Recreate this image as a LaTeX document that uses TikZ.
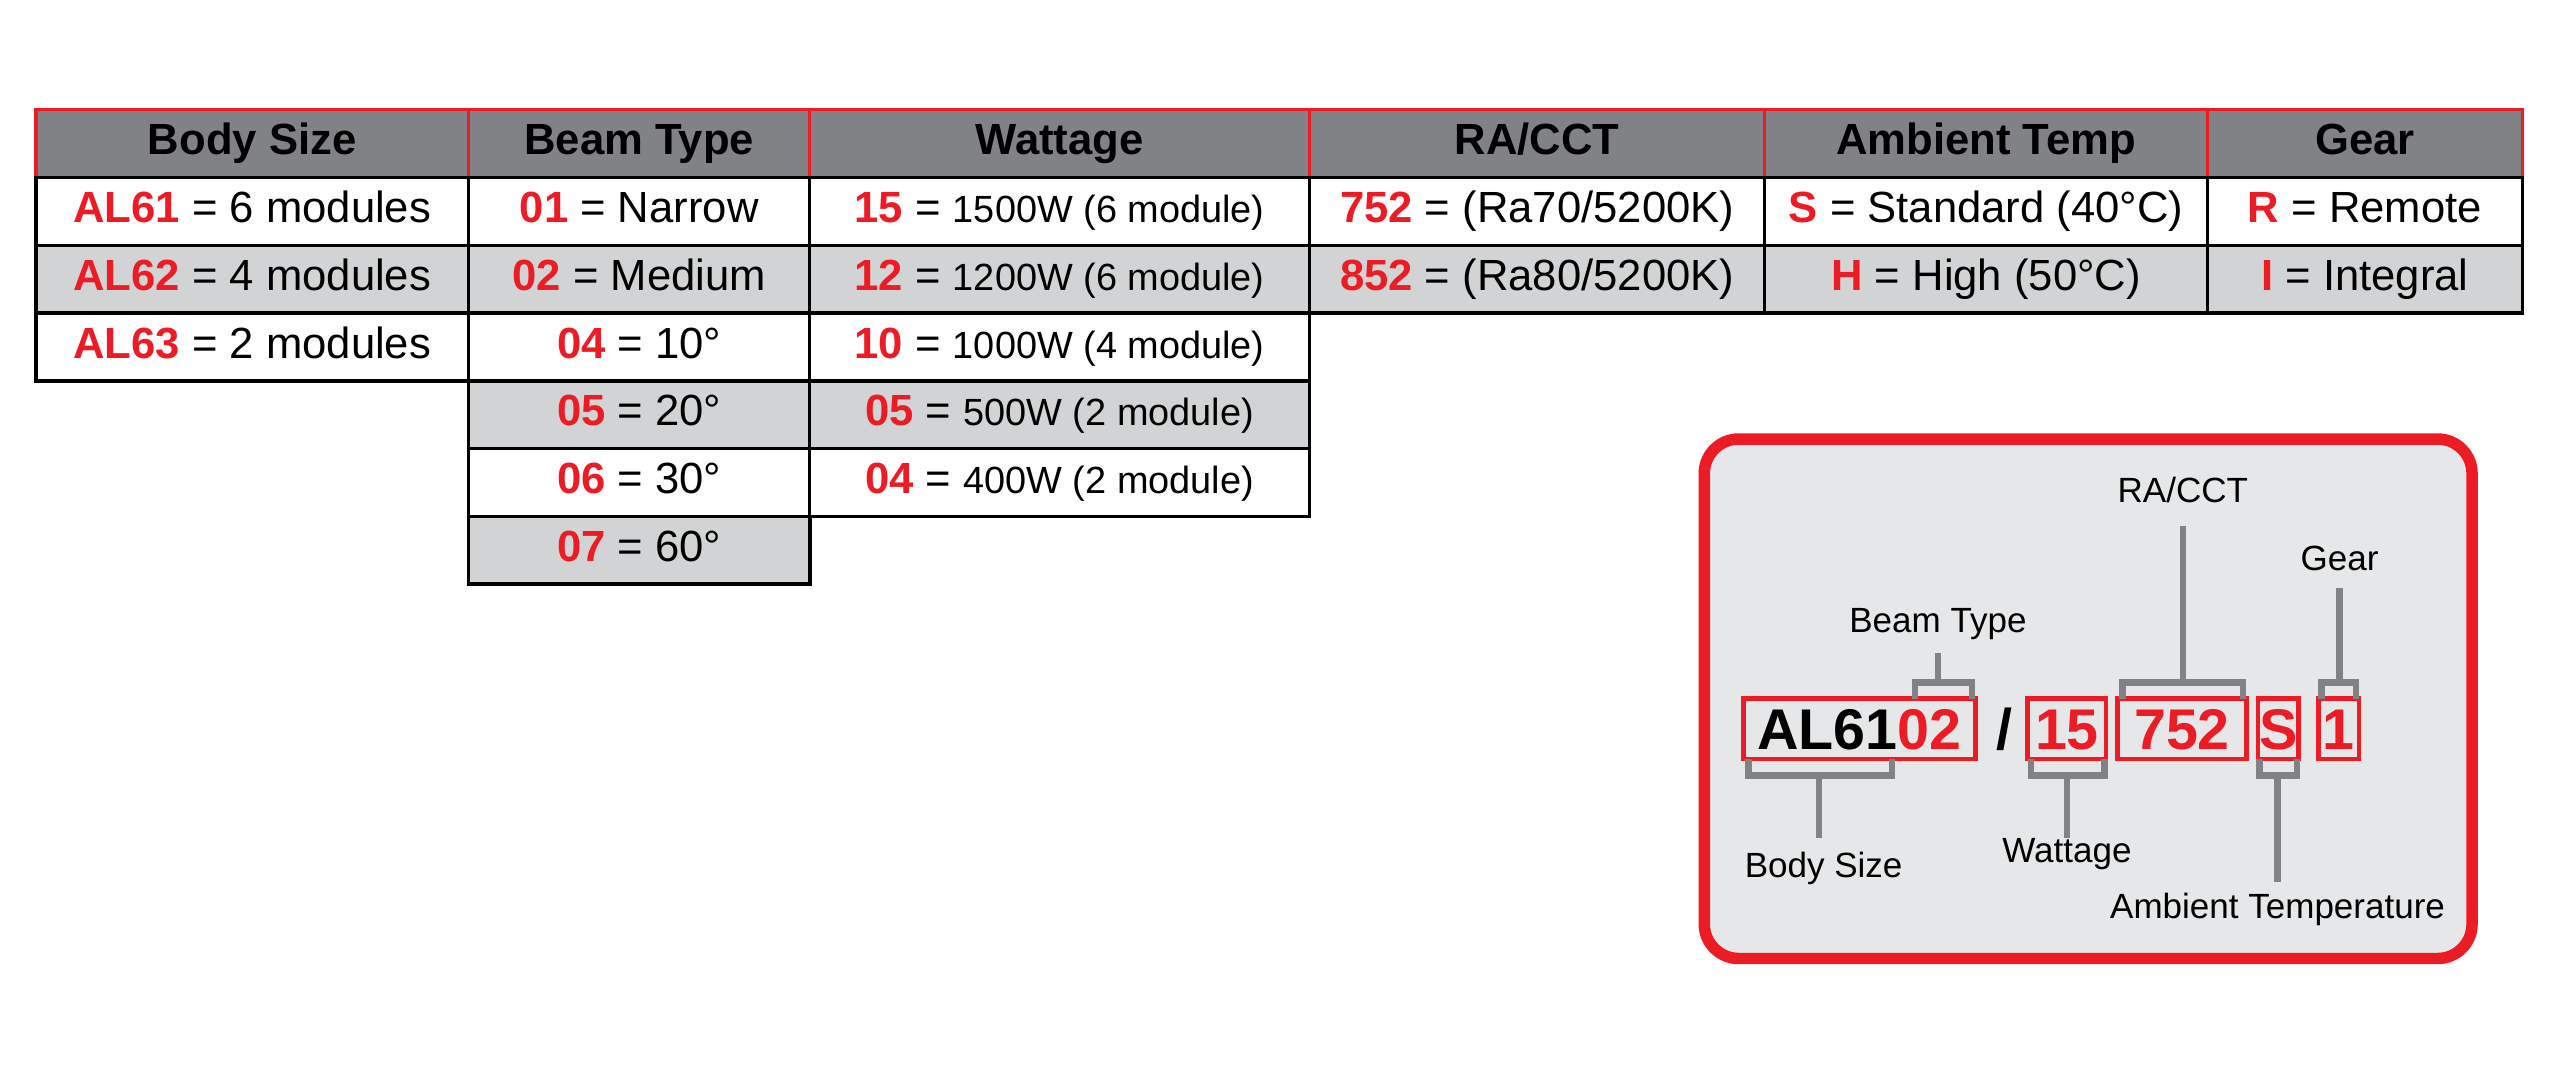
\documentclass[tikz,border=0pt]{standalone}
\usepackage{fontspec}
\setmainfont{Liberation Sans}
\usepackage{xcolor}
\usetikzlibrary{positioning, calc}
\definecolor{alred}{HTML}{ED1C24}
\definecolor{hdrgray}{HTML}{808285}
\definecolor{cellgray}{HTML}{D1D3D4}
\definecolor{boxgray}{HTML}{E6E7E8}
\newcommand\rd[1]{\textcolor{alred}{\textbf{#1}}}
\newcommand\sm[1]{{\fontsize{6.6}{7}\selectfont #1}}

\begin{document}
\begin{tikzpicture}[x=0.01cm, y=-0.01cm,
  cellw/.style={rectangle, draw=black, line width=0.6pt, fill=white, inner sep=0pt,
    minimum height=0.415cm, text height=5.5pt, text depth=1.6pt, font=\fontsize{7.6}{8}\selectfont},
  cellg/.style={cellw, fill=cellgray},
  hdr/.style={cellw, draw=alred, fill=hdrgray, minimum height=0.42cm, font=\fontsize{7.6}{8}\selectfont\bfseries},
  code/.style={rectangle, draw=alred, line width=0.8pt, inner sep=0pt, minimum height=0.37cm,
    text height=7pt, text depth=0pt, font=\fontsize{10}{11}\selectfont\bfseries, text=alred},
  brk/.style={draw=hdrgray, line width=1.1pt},
  lbl/.style={font=\fontsize{6.1}{7}\selectfont, inner sep=0pt}]
  \useasboundingbox (0,0) rectangle (1568,655);
  % Headers
  \node[hdr, minimum width=2.65cm] (h1) at (154.5,88) {Body Size};
  \node[hdr, minimum width=2.09cm] (h2) at (391.5,88) {Beam Type};
  \node[hdr, minimum width=3.06cm] (h3) at (649,88) {Wattage};
  \node[hdr, minimum width=2.79cm] (h4) at (941.5,88) {RA/CCT};
  \node[hdr, minimum width=2.71cm] (h5) at (1216.5,88) {Ambient Temp};
  \node[hdr, minimum width=1.93cm] (h6) at (1448.5,88) {Gear};
  % Body Size
  \node[cellw, minimum width=2.65cm] (bs1) at (154.5,129.5) {\rd{AL61} = 6 modules};
  \node[cellg, minimum width=2.65cm] (bs2) at (154.5,171) {\rd{AL62} = 4 modules};
  \node[cellw, minimum width=2.65cm] (bs3) at (154.5,212.5) {\rd{AL63} = 2 modules};
  % Beam Type
  \node[cellw, minimum width=2.09cm] (bt1) at (391.5,129.5) {\rd{01} = Narrow};
  \node[cellg, minimum width=2.09cm] (bt2) at (391.5,171) {\rd{02} = Medium};
  \node[cellw, minimum width=2.09cm] (bt3) at (391.5,212.5) {\rd{04} = 10°};
  \node[cellg, minimum width=2.09cm] (bt4) at (391.5,254) {\rd{05} = 20°};
  \node[cellw, minimum width=2.09cm] (bt5) at (391.5,295.5) {\rd{06} = 30°};
  \node[cellg, minimum width=2.09cm] (bt6) at (391.5,337) {\rd{07} = 60°};
  % Wattage
  \node[cellw, minimum width=3.06cm] (w1) at (649,129.5) {\rd{15} = \sm{1500W (6 module)}};
  \node[cellg, minimum width=3.06cm] (w2) at (649,171) {\rd{12} = \sm{1200W (6 module)}};
  \node[cellw, minimum width=3.06cm] (w3) at (649,212.5) {\rd{10} = \sm{1000W (4 module)}};
  \node[cellg, minimum width=3.06cm] (w4) at (649,254) {\rd{05} = \sm{500W (2 module)}};
  \node[cellw, minimum width=3.06cm] (w5) at (649,295.5) {\rd{04} = \sm{400W (2 module)}};
  % RA/CCT, Ambient, Gear
  \node[cellw, minimum width=2.79cm] (ra1) at (941.5,129.5) {\rd{752} = (Ra70/5200K)};
  \node[cellg, minimum width=2.79cm] (ra2) at (941.5,171) {\rd{852} = (Ra80/5200K)};
  \node[cellw, minimum width=2.71cm] (at1) at (1216.5,129.5) {\rd{S} = Standard (40°C)};
  \node[cellg, minimum width=2.71cm] (at2) at (1216.5,171) {\rd{H} = High (50°C)};
  \node[cellw, minimum width=1.93cm] (g1) at (1448.5,129.5) {\rd{R} = Remote};
  \node[cellg, minimum width=1.93cm] (g2) at (1448.5,171) {\rd{I} = Integral};
  % Example code box
  \node[rectangle, draw=alred, line width=2pt, fill=boxgray, rounded corners=6pt,
    minimum width=4.7cm, minimum height=3.18cm] (ex) at (1279,428) {};
  \node[code, minimum width=1.42cm] (cbody) at (1139,446.5) {\textcolor{black}{AL61}02};
  \node[font=\fontsize{10}{11}\selectfont\bfseries, inner sep=0pt] (slash) at (1228,446.5) {/};
  \node[code, minimum width=0.48cm] (cw) at (1266,446.5) {15};
  \node[code, minimum width=0.79cm] (cra) at (1336.5,446.5) {752};
  \node[code, minimum width=0.25cm] (cat) at (1395.5,446.5) {S};
  \node[code, minimum width=0.25cm] (cg) at (1432.5,446.5) {1};
  % Labels
  \node[lbl] (lbt) at (1187,382) {Beam Type};
  \node[lbl] (lra) at (1337,300) {RA/CCT};
  \node[lbl] (lg) at (1433,342) {Gear};
  \node[lbl] (lbs) at (1117,532) {Body Size};
  \node[lbl] (lw) at (1266,523) {Wattage};
  \node[lbl] (lat) at (1395,557) {Ambient Temperature};
  % Brackets above
  \draw[brk] (1173,428) -- (1173,418) -- (1208,418) -- (1208,428);
  \draw[brk] (1187,418) -- (1187,400);
  \draw[brk] (1300,428) -- (1300,418) -- (1374,418) -- (1374,428);
  \draw[brk] (1337,418) -- (1337,322);
  \draw[brk] (1422,428) -- (1422,418) -- (1443,418) -- (1443,428);
  \draw[brk] (1433,418) -- (1433,360);
  % Brackets below
  \draw[brk] (1071,465) -- (1071,475) -- (1159,475) -- (1159,465);
  \draw[brk] (1114,475) -- (1114,513);
  \draw[brk] (1244,465) -- (1244,475) -- (1289,475) -- (1289,465);
  \draw[brk] (1266,475) -- (1266,513);
  \draw[brk] (1384,465) -- (1384,475) -- (1407,475) -- (1407,465);
  \draw[brk] (1395,475) -- (1395,540);
\end{tikzpicture}
\end{document}
